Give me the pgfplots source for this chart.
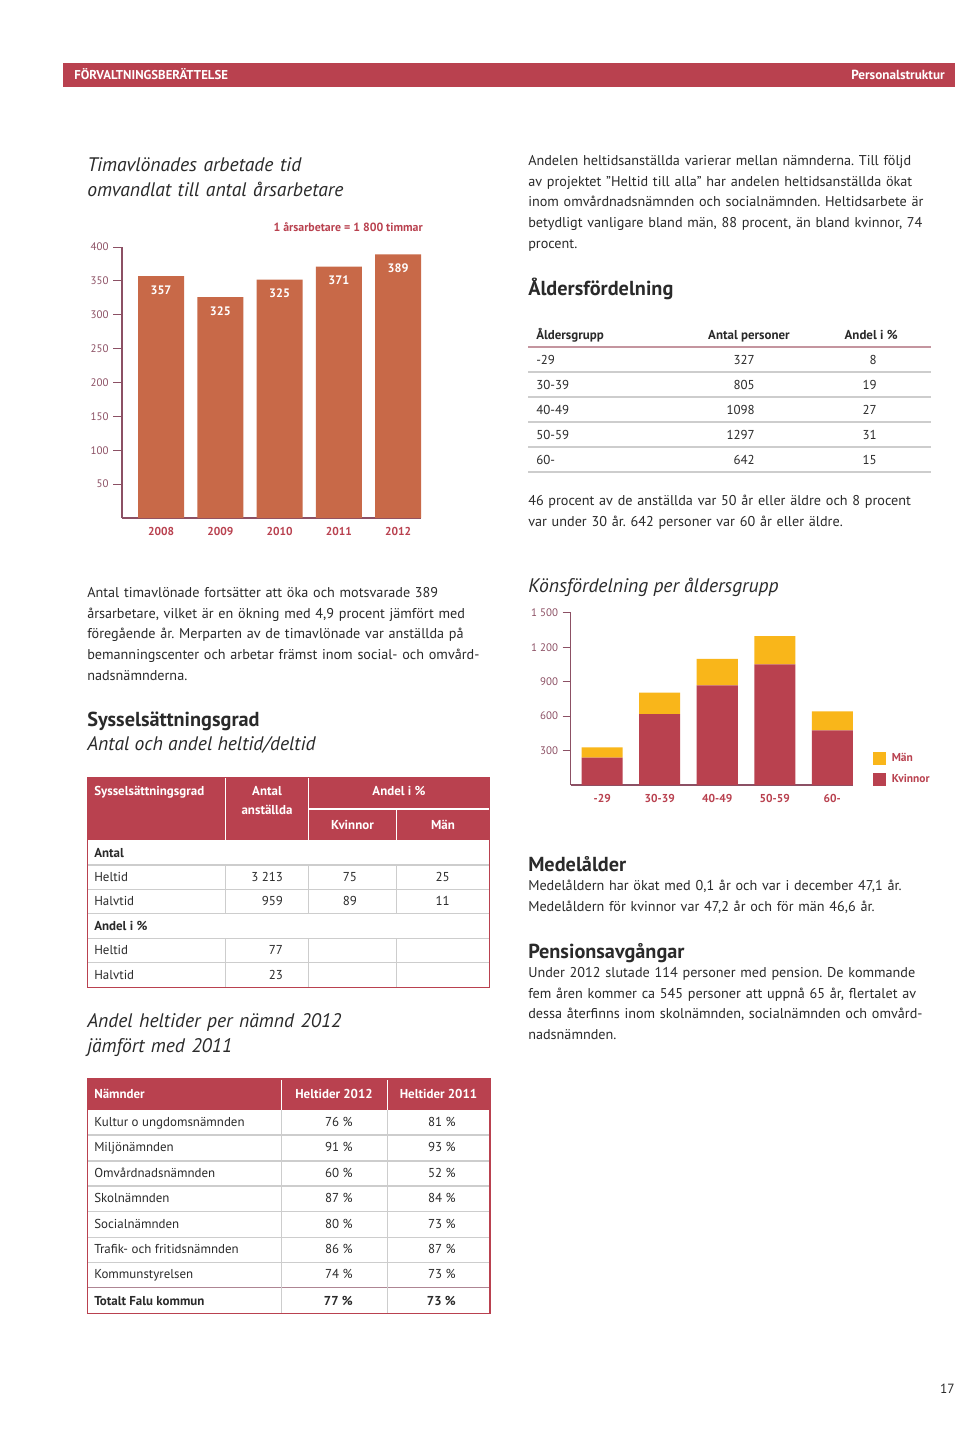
\documentclass[border=0pt]{standalone}
\usepackage{pgfplots}
\pgfplotsset{compat=1.18}
\usepackage{pgfplotstable}
\usepackage{fontspec}
\setmainfont{PT Sans}
\frenchspacing
\definecolor{crim}{HTML}{B9414F}
\definecolor{baror}{HTML}{C86948}
\definecolor{yel}{HTML}{F9B61A}
\definecolor{mauve}{HTML}{8C5064}
\definecolor{txt}{HTML}{2A2A2A}
\definecolor{gridc}{HTML}{CDCDCD}
\definecolor{hrule}{HTML}{C4959F}

\newcommand\bodyf{\fontsize{10.65}{15.5}\selectfont}
\newcommand\tabf{\fontsize{9.7}{12}\selectfont}
\newcommand\headf{\bfseries\fontsize{15.2}{18}\selectfont}
\newcommand\itf{\itshape\fontsize{14.7}{18.75}\selectfont}

\pgfplotstableread{
x y lab
0 357 357
1 326 325
2 352 325
3 371 371
4 389 389
}\timdata
\pgfplotstableread{
x kv man
0 238 89
1 618 187
2 867 231
3 1050 247
4 476 166
}\kondata

\begin{document}
\begin{tikzpicture}
\begin{scope}[x=0.75pt,y=-0.75pt]
\fill[white] (0,0) rectangle (960,1442);
\coordinate (c1) at (122,518);
\coordinate (c2) at (570.7,785);
\end{scope}

% ---------- Chart 1 ----------
\begin{axis}[at={(c1)}, anchor=south west, scale only axis,
 width=224.25pt, height=203.25pt,
 xmin=-0.658, xmax=4.385, ymin=0, ymax=400,
 axis lines=left, axis line style={-, draw=mauve, line width=1pt},
 ybar, bar width=0.776,
 xtick={0,...,4}, xticklabels={2008,2009,2010,2011,2012},
 x tick label style={font=\bfseries\fontsize{8.6}{10}\selectfont, text=crim, yshift=3pt},
 xtick style={draw=none},
 ytick={50,100,...,400},
 y tick label style={font=\fontsize{8.2}{10}\selectfont, text=mauve},
 ytick style={draw=mauve, line width=0.7pt},
 tick align=outside, major tick length=6.5pt,
 /pgf/number format/assume math mode=true,
 nodes near coords, point meta=explicit symbolic,
 every node near coord/.append style={anchor=north, yshift=-3.5pt, text=white, font=\bfseries\fontsize{9.2}{10}\selectfont},
 clip=false,
]
\addplot[fill=baror, draw=none] table[x=x,y=y,meta=lab]{\timdata};
\end{axis}

% ---------- Chart 2 ----------
\begin{axis}[at={(c2)}, anchor=south west, scale only axis,
 width=211.7pt, height=129.2pt,
 xmin=-0.548, xmax=4.36, ymin=0, ymax=1500,
 axis lines=left, axis line style={-, draw=mauve, line width=1pt},
 ybar stacked, bar width=0.713,
 xtick={0,...,4}, xticklabels={-29,30-39,40-49,50-59,60-},
 x tick label style={font=\bfseries\fontsize{8.6}{10}\selectfont, text=crim, yshift=2.2pt},
 xtick style={draw=none},
 ytick={300,600,900,1200,1500}, yticklabels={300,600,900,1\ 200,1\ 500},
 y tick label style={font=\fontsize{8.2}{10}\selectfont, text=mauve},
 ytick style={draw=mauve, line width=0.7pt},
 tick align=outside, major tick length=6pt,
 clip=false,
 reverse legend,
 legend style={at={(1.07,0.198)}, anchor=north west, draw=none, fill=none, inner sep=0pt,
   row sep=5.4pt, font=\bfseries\fontsize{8.6}{10}\selectfont, text=crim,
   nodes={inner sep=1.5pt}},
 legend cell align=left,
 legend image code/.code={\fill[#1] (0pt,-4.7pt) rectangle (9.6pt,4.7pt);},
]
\addplot[fill=crim, draw=none] table[x=x,y=kv]{\kondata};
\addplot[fill=yel, draw=none] table[x=x,y=man]{\kondata};
\addlegendentry{\hspace{3pt}Kvinnor}
\addlegendentry{\hspace{3pt}Män}
\end{axis}

\begin{scope}[x=0.75pt,y=-0.75pt, every node/.style={inner sep=0pt, text=txt}]
% header bar
\fill[crim] (63,63) rectangle (955,87);
\node[anchor=base west, text=white, font=\bfseries\fontsize{9.6}{10}\selectfont] at (74,79.5) {FÖRVALTNINGSBERÄTTELSE};
\node[anchor=base east, text=white, font=\bfseries\fontsize{9.9}{10}\selectfont] at (945,79.5) {Personalstruktur};

% chart 1 title
\node[anchor=base west, font=\itf, text width=300pt, align=left] at (87,171) {Timavlönades arbetade tid\\omvandlat till antal årsarbetare};
\node[anchor=base east, text=crim, font=\bfseries\fontsize{8.9}{10}\selectfont] at (423,231) {1 årsarbetare = 1 800 timmar};

% right column paragraph 1
\node[anchor=base west, font=\bodyf, text width=330pt, align=left] at (528,165.5) {Andelen heltidsanställda varierar mellan nämnderna. Till följd\\av projektet ”Heltid till alla” har andelen heltidsanställda ökat\\inom omvårdnadsnämnden och socialnämnden. Heltidsarbete är\\betydligt vanligare bland män, 88 procent, än bland kvinnor, 74\\procent.};

\node[anchor=base west, font=\headf] at (528,295) {Åldersfördelning};

% Åldersfördelning table
\begin{scope}[every node/.append style={font=\tabf}]
\node[anchor=base west, font=\bfseries\tabf] at (536,339) {Åldersgrupp};
\node[anchor=base east, font=\bfseries\tabf] at (790,339) {Antal personer};
\node[anchor=base east, font=\bfseries\tabf] at (898,339) {Andel i \%};
\draw[hrule, line width=1.4pt] (528,347) -- (931,347);
\foreach \yy in {372,397,422,447,472} \draw[gridc, line width=0.8pt] (528,\yy) -- (931,\yy);
\foreach \a/\b/\c [count=\i from 0] in {-29/327/8, 30-39/805/19, 40-49/1098/27, 50-59/1297/31, 60-/642/15}{
  \node[anchor=base west] at (536,364+25*\i) {\a};
  \node[anchor=base east] at (755,364+25*\i) {\b};
  \node[anchor=base east] at (877,364+25*\i) {\c};
}
\end{scope}

\node[anchor=base west, font=\bodyf, text width=330pt, align=left] at (528,505.5) {46 procent av de anställda var 50 år eller äldre och 8 procent\\var under 30 år. 642 personer var 60 år eller äldre.};

% left paragraph
\node[anchor=base west, font=\bodyf, text width=330pt, align=left] at (87,597.5) {Antal timavlönade fortsätter att öka och motsvarade 389\\årsarbetare, vilket är en ökning med 4,9 procent jämfört med\\föregående år. Merparten av de timavlönade var anställda på\\bemanningscenter och arbetar främst inom social- och omvård-\\nadsnämnderna.};

\node[anchor=base west, font=\headf] at (87,726) {Sysselsättningsgrad};
\node[anchor=base west, font=\itf] at (87,750) {Antal och andel heltid/deltid};

% chart 2 title
\node[anchor=base west, font=\itf] at (528,592) {Könsfördelning per åldersgrupp};

% Sysselsättningsgrad table
\fill[crim] (87.3,777.3) rectangle (489.3,840);
\draw[white, line width=0.8pt] (225.7,777.3) -- (225.7,840);
\draw[white, line width=0.8pt] (308.3,777.3) -- (308.3,840);
\draw[white, line width=0.8pt] (308.3,809) -- (489.3,809);
\draw[white, line width=0.8pt] (396.7,809) -- (396.7,840);
\foreach \yy in {865,889.3,913.3,938.3,962.7} \draw[gridc, line width=0.8pt] (87.3,\yy) -- (489.3,\yy);
\foreach \xx in {225.7,308.3,396.7} {
  \draw[gridc, line width=0.8pt] (\xx,865) -- (\xx,913.3);
  \draw[gridc, line width=0.8pt] (\xx,938.3) -- (\xx,987.3);
}
\draw[crim, line width=1.1pt] (87.3,777.3) rectangle (489.3,987.3);
\begin{scope}[every node/.append style={font=\bfseries\tabf, text=white}]
\node[anchor=base west] at (94,795) {Sysselsättningsgrad};
\node[anchor=base] at (267,795) {Antal};
\node[anchor=base] at (267,814) {anställda};
\node[anchor=base] at (399,795) {Andel i \%};
\node[anchor=base] at (352.5,829) {Kvinnor};
\node[anchor=base] at (443,829) {Män};
\end{scope}
\begin{scope}[every node/.append style={font=\tabf}]
\node[anchor=base west, font=\bfseries\tabf] at (94,857) {Antal};
\node[anchor=base west] at (94,881) {Heltid};
\node[anchor=base east] at (283.3,881) {3 213};
\node[anchor=base east] at (357.3,881) {75};
\node[anchor=base east] at (450,881) {25};
\node[anchor=base west] at (94,905) {Halvtid};
\node[anchor=base east] at (283.3,905) {959};
\node[anchor=base east] at (357.3,905) {89};
\node[anchor=base east] at (450,905) {11};
\node[anchor=base west, font=\bfseries\tabf] at (94,930) {Andel i \%};
\node[anchor=base west] at (94,954) {Heltid};
\node[anchor=base east] at (283.3,954) {77};
\node[anchor=base west] at (94,979) {Halvtid};
\node[anchor=base east] at (283.3,979) {23};
\end{scope}

% Medelålder / Pensionsavgångar
\node[anchor=base west, font=\headf] at (528,871) {Medelålder};
\node[anchor=base west, font=\bodyf, text width=330pt, align=left] at (528,890.5) {Medelåldern har ökat med 0,1 år och var i december 47,1 år.\\Medelåldern för kvinnor var 47,2 år och för män 46,6 år.};
\node[anchor=base west, font=\headf] at (528,958) {Pensionsavgångar};
\node[anchor=base west, font=\bodyf, text width=330pt, align=left] at (528,977.5) {Under 2012 slutade 114 personer med pension. De kommande\\fem åren kommer ca 545 personer att uppnå 65 år, flertalet av\\dessa återfinns inom skolnämnden, socialnämnden och omvård-\\nadsnämnden.};

% Andel heltider title
\node[anchor=base west, font=\itf, text width=300pt, align=left] at (87,1027) {Andel heltider per nämnd 2012\\jämfört med 2011};

% Nämnder table
\fill[crim] (87.3,1079) rectangle (490,1110);
\draw[white, line width=0.8pt] (281.7,1079) -- (281.7,1110);
\draw[white, line width=0.8pt] (387.3,1079) -- (387.3,1110);
\foreach \yy in {1135,1161,1186,1211.7,1237.3,1262.7} \draw[gridc, line width=0.8pt] (87.3,\yy) -- (490,\yy);
\draw[mauve!70, line width=0.9pt] (87.3,1287.7) -- (490,1287.7);
\foreach \xx in {281.7,387.3} \draw[gridc, line width=0.8pt] (\xx,1110) -- (\xx,1313.3);
\draw[crim, line width=1.1pt] (87.3,1079) rectangle (490,1313.3);
\begin{scope}[every node/.append style={font=\bfseries\tabf, text=white}]
\node[anchor=base west] at (94,1098) {Nämnder};
\node[anchor=base] at (334,1098) {Heltider 2012};
\node[anchor=base] at (438.5,1098) {Heltider 2011};
\end{scope}
\begin{scope}[every node/.append style={font=\tabf}]
\foreach \n/\a/\b [count=\i from 0] in {Kultur o ungdomsnämnden/76/81, Miljönämnden/91/93, Omvårdnadsnämnden/60/52, Skolnämnden/87/84, Socialnämnden/80/73, Trafik- och fritidsnämnden/86/87, Kommunstyrelsen/74/73}{
  \node[anchor=base west] at (94,1126.5+25.4*\i) {\n};
  \node[anchor=base east] at (353,1126.5+25.4*\i) {\a\ \%};
  \node[anchor=base east] at (456,1126.5+25.4*\i) {\b\ \%};
}
\node[anchor=base west, font=\bfseries\tabf] at (94,1305) {Totalt Falu kommun};
\node[anchor=base east, font=\bfseries\tabf] at (353,1305) {77 \%};
\node[anchor=base east, font=\bfseries\tabf] at (456,1305) {73 \%};
\end{scope}

% page number
\node[anchor=base east, font=\fontsize{10}{12}\selectfont] at (955,1393) {17};
\end{scope}
\end{tikzpicture}
\end{document}
